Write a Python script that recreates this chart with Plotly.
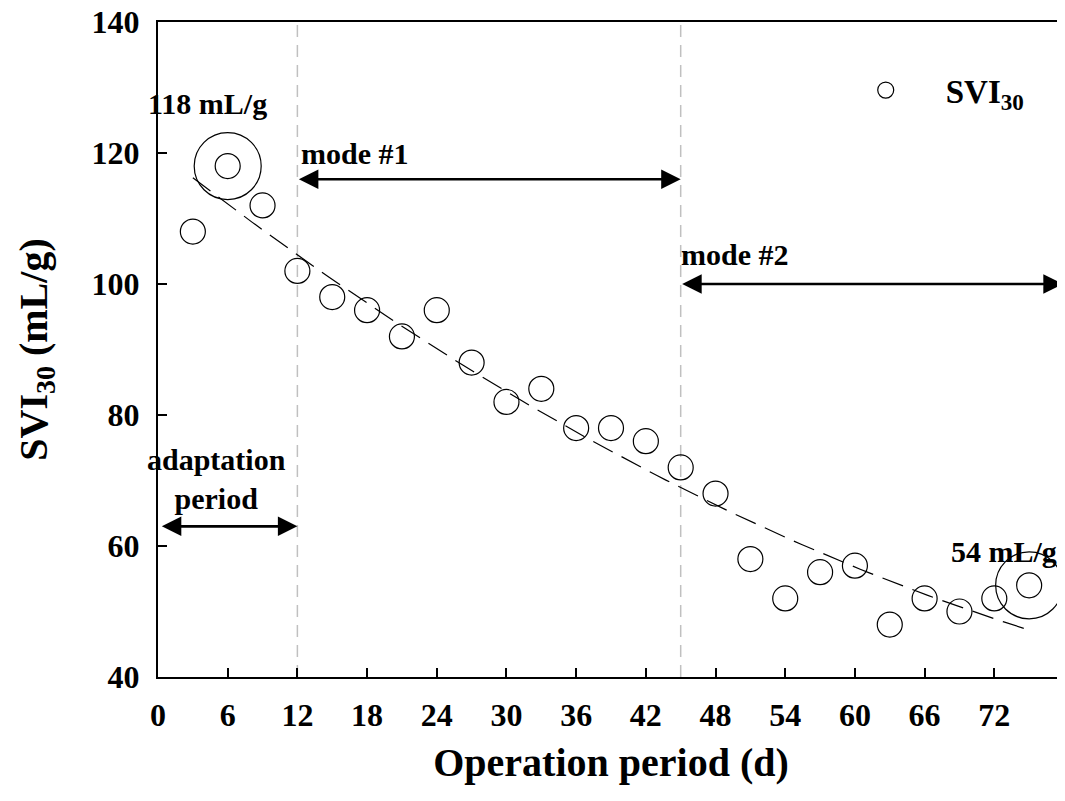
import numpy as np
import plotly.graph_objects as go

# ---- data ----
days = [3, 6, 9, 12, 15, 18, 21, 24, 27, 30, 33, 36, 39, 42, 45, 48, 51, 54, 57, 60, 63, 66, 69, 72, 75]
svi30 = [108, 118, 112, 102, 98, 96, 92, 96, 88, 82, 84, 78, 78, 76, 72, 68, 58, 52, 56, 57, 48, 52, 50, 52, 54]
highlight_days = [6, 75]
highlight_svi = [118, 54]
period_bounds = [12, 45]
x_ticks = [0, 6, 12, 18, 24, 30, 36, 42, 48, 54, 60, 66, 72]
y_ticks = [40, 60, 80, 100, 120, 140]

FONT = "Liberation Serif"

# quadratic trend line (as the spreadsheet trendline)
coef = np.polyfit(days, svi30, 2)
trend_x = np.linspace(days[0], days[-1], 100)
trend_y = np.polyval(coef, trend_x)

fig = go.Figure()

fig.add_trace(go.Scatter(
    x=trend_x, y=trend_y, mode="lines",
    line=dict(color="black", width=1.2, dash="22px,10px"),
    showlegend=False, hoverinfo="skip"))

fig.add_trace(go.Scatter(
    x=days, y=svi30, mode="markers", name="SVI<sub>30</sub>",
    marker=dict(symbol="circle-open", size=25, color="black", line=dict(width=1.2)),
    showlegend=True))

fig.add_trace(go.Scatter(
    x=highlight_days, y=highlight_svi, mode="markers",
    marker=dict(symbol="circle-open", size=67, color="black", line=dict(width=1.2)),
    showlegend=False, hoverinfo="skip", cliponaxis=False))

# vertical dashed separators
for xb in period_bounds:
    fig.add_shape(type="line", x0=xb, x1=xb, y0=40, y1=140, xref="x", yref="y",
                  line=dict(color="#c0c0c0", width=1.5, dash="12px,8px"), layer="below")

# double arrows
arrows = [(0.2, 12, 63), (12, 45, 116), (45, 77.9, 100)]
for x0, x1, yy in arrows:
    fig.add_annotation(x=x1, y=yy, ax=x0, ay=yy, xref="x", yref="y", axref="x", ayref="y",
                       text="", showarrow=True, arrowhead=2, startarrowhead=2,
                       arrowside="end+start", arrowwidth=2.6, arrowsize=1.5,
                       startarrowsize=1.5, arrowcolor="black",
                       standoff=0, startstandoff=0)

ann_font = dict(family=FONT, size=30, color="black")
fig.add_annotation(x=4.3, y=127.5, text="<b>118 mL/g</b>", showarrow=False, font=ann_font)
fig.add_annotation(x=72.8, y=59.2, text="<b>54 mL/g</b>", showarrow=False, font=ann_font)
fig.add_annotation(x=17.0, y=120, text="<b>mode #1</b>", showarrow=False, font=ann_font)
fig.add_annotation(x=49.7, y=104.5, text="<b>mode #2</b>", showarrow=False, font=ann_font)
fig.add_annotation(x=5.0, y=70.2, text="<b>adaptation<br>period</b>", showarrow=False,
                   font=ann_font)

fig.update_layout(
    width=1058, height=794,
    margin=dict(l=150, r=2, t=14, b=125, autoexpand=False),
    plot_bgcolor="white", paper_bgcolor="white",
    font=dict(family=FONT, color="black"),
    showlegend=True,
    legend=dict(x=0.737, y=0.896, xanchor="left", yanchor="middle",
                font=dict(family=FONT, size=33, color="black", weight="bold"),
                bgcolor="rgba(0,0,0,0)", itemwidth=110),
    xaxis=dict(range=[0, 78], tickvals=x_ticks, ticktext=[str(v) for v in x_ticks],
               ticks="inside", ticklen=9, tickwidth=1.5, tickcolor="black",
               showline=True, linecolor="black", linewidth=2, mirror=True,
               showgrid=False, zeroline=False, ticklabelstandoff=9,
               ticklabeloverflow="allow", automargin=False,
               tickfont=dict(family=FONT, size=32, color="black", weight="bold"),
               title=dict(text="<b>Operation period (d)</b>",
                          font=dict(family=FONT, size=40, color="black"), standoff=16)),
    yaxis=dict(range=[40, 140], tickvals=y_ticks,
               ticks="inside", ticklen=9, tickwidth=1.5, tickcolor="black",
               showline=True, linecolor="black", linewidth=2,
               showgrid=False, zeroline=False, ticklabelstandoff=10,
               ticklabeloverflow="allow", automargin=False,
               tickfont=dict(family=FONT, size=32, color="black", weight="bold"),
               title=dict(text="<b>SVI<sub>30</sub> (mL/g)</b>",
                          font=dict(family=FONT, size=40, color="black"), standoff=32)),
)

fig.write_html("out.html")
